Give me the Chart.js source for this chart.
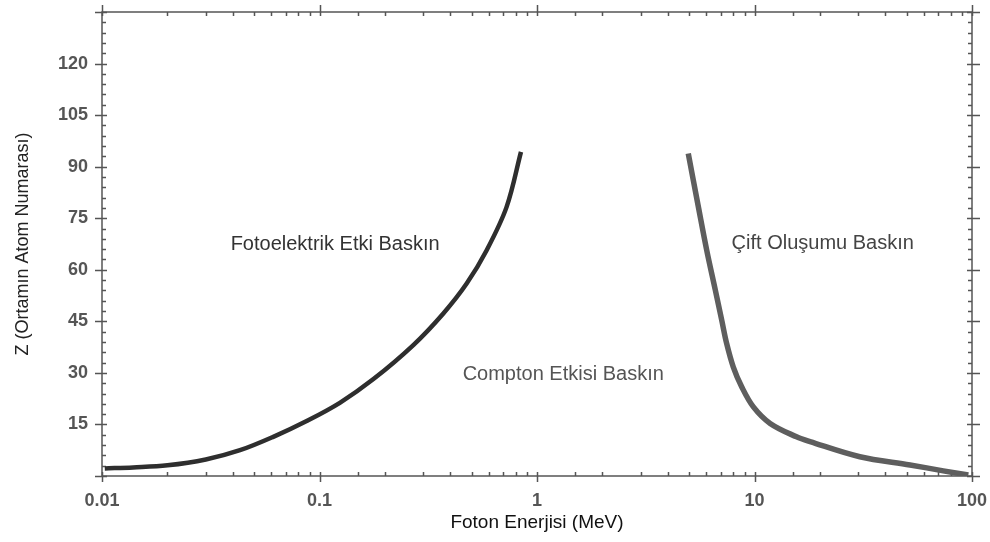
<!DOCTYPE html>
<html>
<head>
<meta charset="utf-8">
<script src="https://cdn.jsdelivr.net/npm/chart.js@4"></script>
<style>
  html, body { margin: 0; padding: 0; background: #fff; }
  #wrap { width: 990px; height: 542px; }
</style>
</head>
<body>
<div id="wrap"><canvas id="grafik"></canvas></div>
<script>
// sinir egrileri (okunan degerler)
var fotoEnerji = [0.0103, 0.0139, 0.02, 0.03, 0.0431, 0.0613, 0.0873, 0.124, 0.177, 0.27, 0.371, 0.475, 0.587, 0.725, 0.844];
var fotoZ      = [2.2, 2.5, 3.1, 4.8, 7.5, 11.4, 16.0, 21.3, 28.2, 38.1, 47.3, 56.0, 65.7, 78.3, 94.3];

var ciftEnerji = [4.96, 5.52, 6.03, 6.6, 7.07, 7.45, 7.99, 8.74, 9.88, 11.8, 15.6, 18.0, 30.5, 51.9, 73.8, 96.2];
var ciftZ      = [93.8, 78.3, 65.7, 54.2, 45.3, 38.5, 31.7, 25.9, 20.1, 15.3, 11.4, 10.0, 5.6, 3.2, 1.5, 0.3];

var xEtiketler = [0.01, 0.1, 1, 10, 100];
var yEtiketler = [15, 30, 45, 60, 75, 90, 105, 120];

// bolge yazilari
var bolgeYazi = ["Fotoelektrik Etki Baskın", "Compton Etkisi Baskın", "Çift Oluşumu Baskın"];
var bolgeX    = [0.118, 1.32, 20.6];
var bolgeZ    = [67.3, 29.4, 67.7];
var bolgeRenk = ["#333", "#555", "#444"];

function noktalar(xs, ys){
    let out = [];
    for (let i = 0; i < xs.length; i++) out.push({x: xs[i], y: ys[i]});
    return out;
}
function onluMu(v){
    let l = Math.log10(v);
    return Math.abs(l - Math.round(l)) < 1e-6;
}

const cerceve = {
    id: 'cerceve',
    beforeDatasetsDraw(chart){
        const ctx = chart.ctx, a = chart.chartArea;
        const x = chart.scales.x, y = chart.scales.y;
        ctx.save();
        ctx.strokeStyle = '#555';
        ctx.lineWidth = 1.5;
        ctx.strokeRect(a.left, a.top, a.right - a.left, a.bottom - a.top);
        ctx.beginPath();
        x.ticks.forEach(t => {
            const px = Math.round(x.getPixelForValue(t.value)) + 0.5;
            if (onluMu(t.value)) {
                ctx.moveTo(px, a.bottom - 4); ctx.lineTo(px, a.bottom + 6);
                ctx.moveTo(px, a.top - 7); ctx.lineTo(px, a.top + 4);
            } else {
                ctx.moveTo(px, a.bottom - 4); ctx.lineTo(px, a.bottom);
                ctx.moveTo(px, a.top); ctx.lineTo(px, a.top + 4);
            }
        });
        y.ticks.forEach(t => {
            const py = Math.round(y.getPixelForValue(t.value)) + 0.5;
            if (t.value % 15 === 0) {
                ctx.moveTo(a.left - 7, py); ctx.lineTo(a.left + 5, py);
                ctx.moveTo(a.right - 5, py); ctx.lineTo(a.right + 8, py);
            } else {
                ctx.moveTo(a.left, py); ctx.lineTo(a.left + 4, py);
                ctx.moveTo(a.right - 4, py); ctx.lineTo(a.right, py);
            }
        });
        ctx.stroke();
        ctx.restore();
    },
    afterDatasetsDraw(chart){
        const ctx = chart.ctx;
        const x = chart.scales.x, y = chart.scales.y;
        ctx.save();
        ctx.font = '20px "Liberation Sans", Arial, sans-serif';
        ctx.textAlign = 'center';
        ctx.textBaseline = 'middle';
        for (let i = 0; i < bolgeYazi.length; i++) {
            ctx.fillStyle = bolgeRenk[i];
            ctx.fillText(bolgeYazi[i], x.getPixelForValue(bolgeX[i]), y.getPixelForValue(bolgeZ[i]));
        }
        ctx.restore();
    }
};

var ctx = document.getElementById('grafik').getContext('2d');
var chart = new Chart(ctx, {
    type: 'scatter',
    data: {
        datasets: [
            {label: 'Fotoelektrik', data: noktalar(fotoEnerji, fotoZ), showLine: true,
             borderColor: '#2e2e2e', borderWidth: 4.5, pointRadius: 0, tension: 0.35},
            {label: 'Cift', data: noktalar(ciftEnerji, ciftZ), showLine: true,
             borderColor: '#5e5e5e', borderWidth: 5.5, pointRadius: 0, tension: 0.35}
        ]
    },
    options: {
        responsive: true,
        maintainAspectRatio: false,
        animation: false,
        layout: { padding: {left: 0, right: 18, top: 12, bottom: 0} },
        plugins: { legend: {display: false}, tooltip: {enabled: false} },
        scales: {
            x: {
                type: 'logarithmic', min: 0.01, max: 100,
                grid: {display: false, drawTicks: false},
                border: {display: false},
                ticks: {
                    autoSkip: false, maxRotation: 0, padding: 14,
                    color: '#555',
                    font: {family: '"Liberation Sans", Arial, sans-serif', size: 18, weight: 'bold'},
                    callback: function(v){ return (onluMu(v) && xEtiketler.indexOf(+v.toPrecision(3)) >= 0) ? String(+v.toPrecision(3)) : ''; }
                },
                title: {display: true, text: 'Foton Enerjisi (MeV)', color: '#111',
                        font: {family: '"Liberation Sans", Arial, sans-serif', size: 19}, padding: {top: 0, bottom: 8}},
                afterFit: function(s){ s.height = 66; s.paddingLeft = 0; s.paddingRight = 0; }
            },
            y: {
                min: 0, max: 135,
                grid: {display: false, drawTicks: false},
                border: {display: false},
                ticks: {
                    stepSize: 3, autoSkip: false, padding: 14,
                    color: '#555',
                    font: {family: '"Liberation Sans", Arial, sans-serif', size: 18, weight: 'bold'},
                    callback: function(v){ return yEtiketler.indexOf(v) >= 0 ? String(v) : ''; }
                },
                title: {display: true, text: 'Z (Ortamın Atom Numarası)', color: '#222',
                        font: {family: '"Liberation Sans", Arial, sans-serif', size: 18}, padding: {top: 12, bottom: 0}},
                afterFit: function(s){ s.width = 102; s.paddingTop = 0; s.paddingBottom = 0; }
            }
        }
    },
    plugins: [cerceve]
});
</script>
</body>
</html>
